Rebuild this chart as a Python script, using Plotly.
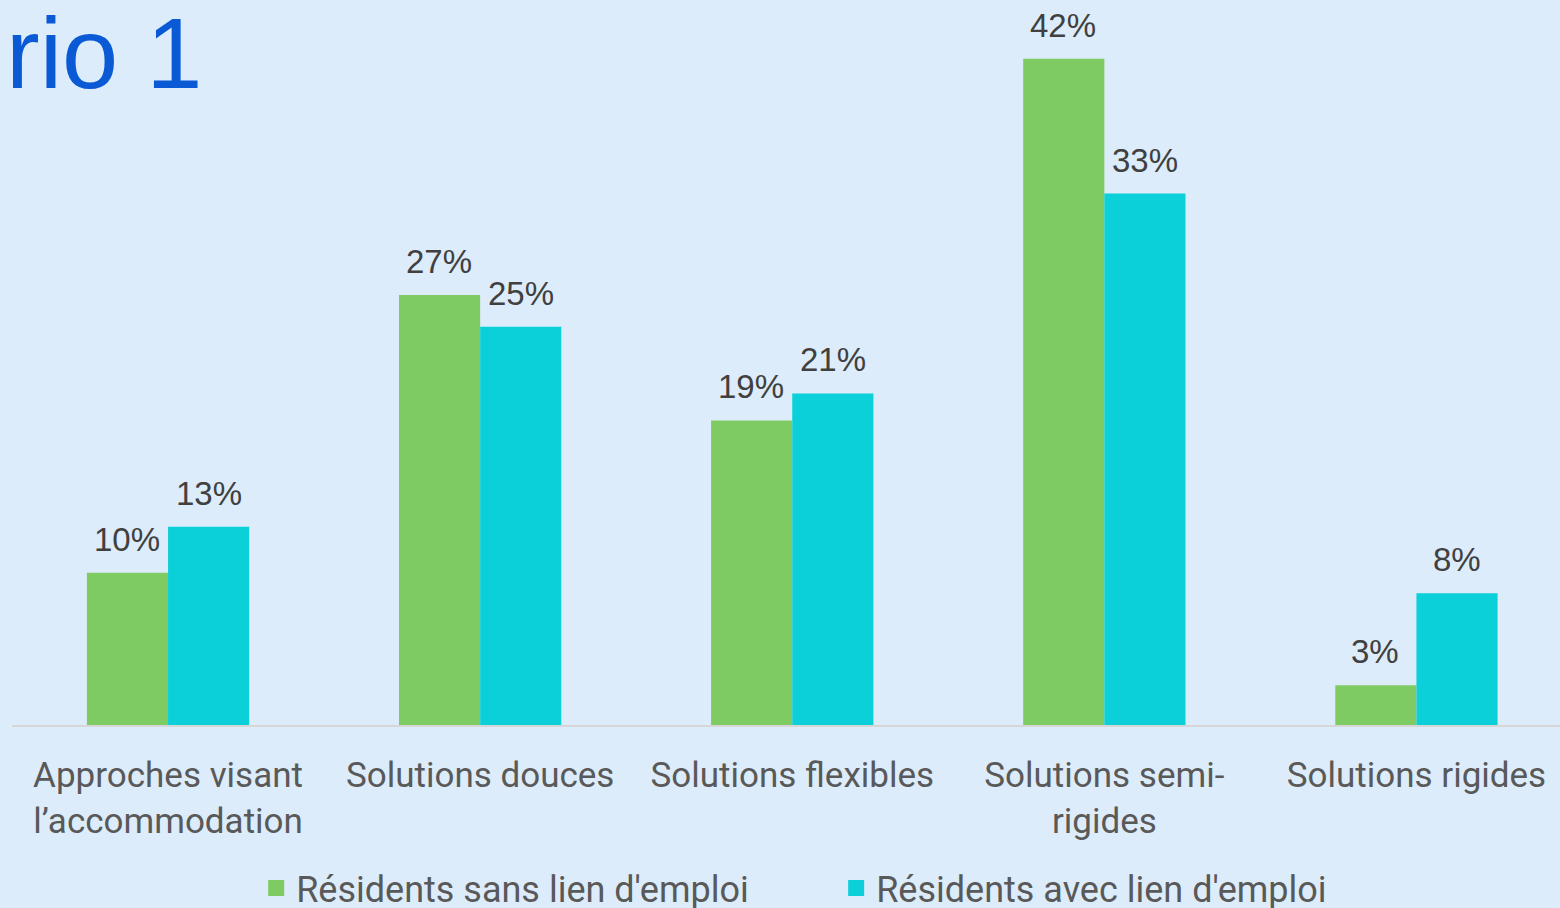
import plotly.graph_objects as go

categories = ["Approches visant<br>l’accommodation", "Solutions douces", "Solutions flexibles",
              "Solutions semi-<br>rigides", "Solutions rigides"]
series_names = ["Résidents sans lien d'emploi", "Résidents avec lien d'emploi"]
sans_lien = [9.6, 27.1, 19.2, 42.0, 2.5]
avec_lien = [12.5, 25.1, 20.9, 33.5, 8.3]
sans_labels = ["10%", "27%", "19%", "42%", "3%"]
avec_labels = ["13%", "25%", "21%", "33%", "8%"]

colors = ["#7DCB62", "#0BCFD9"]
bg = "#DDECFA"
axis_font_family = "Roboto, Liberation Sans, sans-serif"

fig = go.Figure()
for name, vals, col in [(series_names[0], sans_lien, colors[0]), (series_names[1], avec_lien, colors[1])]:
    fig.add_trace(go.Bar(x=categories, y=vals, name=name, marker_color=col,
                         marker_line_width=0, showlegend=False))
# legend entries with larger square symbols
for name, col in zip(series_names, colors):
    fig.add_trace(go.Scatter(x=[None], y=[None], mode="markers", name=name,
                             marker=dict(symbol="square", size=20, color=col)))

label_font = dict(family="Liberation Sans, Arial, sans-serif", size=33, color="#404040")
for vals, labs, shift in [(sans_lien, sans_labels, -41), (avec_lien, avec_labels, 41)]:
    for c, v, t in zip(categories, vals, labs):
        fig.add_annotation(x=c, y=v, text=t, showarrow=False, xshift=shift, yshift=13,
                           yanchor="bottom", font=label_font)

fig.add_annotation(xref="paper", yref="paper", x=0, y=1, xshift=-8, yshift=5,
                   xanchor="left", yanchor="top", text="rio 1", showarrow=False,
                   font=dict(family="Liberation Sans, Arial, sans-serif", size=101, color="#0A5AD6"))

fig.update_layout(
    width=1560, height=908,
    paper_bgcolor=bg, plot_bgcolor=bg,
    barmode="group", bargap=0.48, bargroupgap=0,
    margin=dict(l=12, r=0, t=0, b=183),
    showlegend=True,
    legend=dict(orientation="h", xref="container", yref="container", x=0.536, y=0.022,
                xanchor="center", yanchor="middle",
                font=dict(family=axis_font_family, size=36, color="#595959"),
                bgcolor="rgba(0,0,0,0)", entrywidth=535, itemsizing="trace"),
    xaxis=dict(range=[-0.5, 4.46], showgrid=False, showline=True, linecolor="#D6D6D6", linewidth=2,
               ticks="", ticklabelstandoff=18,
               tickfont=dict(family=axis_font_family, size=35, color="#595959")),
    yaxis=dict(range=[0, 45.7], visible=False, showgrid=False, zeroline=False),
)

fig.write_html("out.html", config={"displayModeBar": False},
               post_script="document.body.style.margin='0';document.body.style.overflow='hidden';")
